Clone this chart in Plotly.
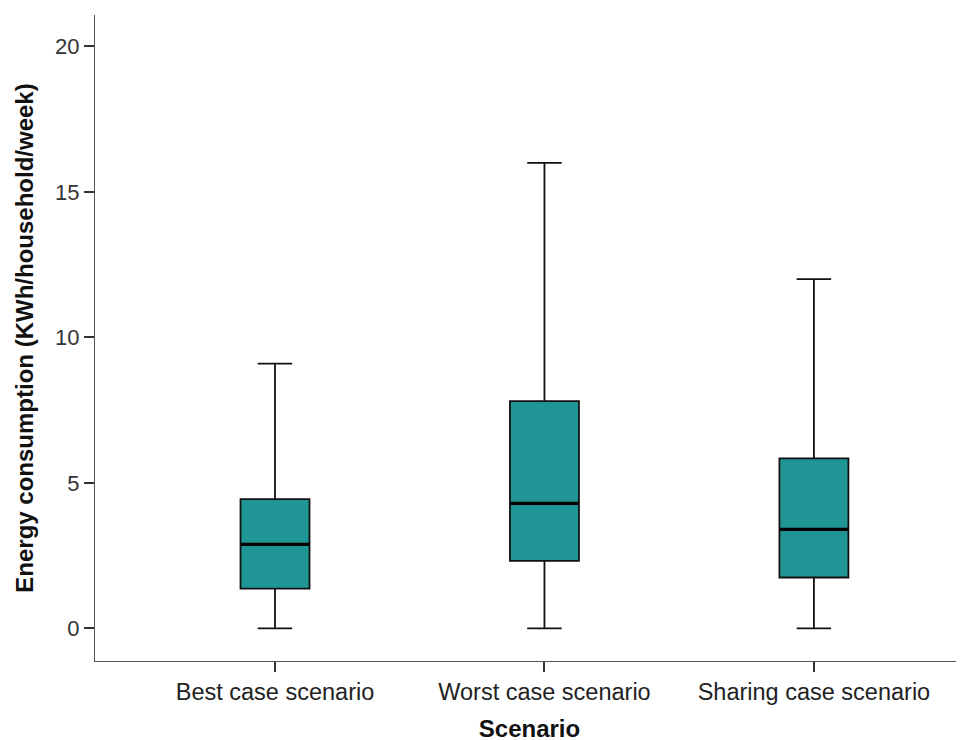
import plotly.graph_objects as go

categories = ["Best case scenario", "Worst case scenario", "Sharing case scenario"]
lower_fence = [0.0, 0.0, 0.0]
q1 = [1.37, 2.32, 1.75]
median = [2.89, 4.30, 3.40]
q3 = [4.44, 7.81, 5.84]
upper_fence = [9.1, 16.0, 12.0]
y_ticks = [0, 5, 10, 15, 20]

BOX_W = 0.256
FILL = "#1F9695"
FONT = "Liberation Sans, Arial, sans-serif"

fig = go.Figure()
fig.add_trace(go.Box(
    x=categories,
    q1=q1, median=median, q3=q3,
    lowerfence=lower_fence, upperfence=upper_fence,
    width=BOX_W,
    whiskerwidth=0.5,
    fillcolor=FILL,
    line=dict(color="#111111", width=1.8),
    boxpoints=False,
    hoverinfo="skip",
    showlegend=False,
))

# thicker median lines, drawn from the data
for i, m in enumerate(median):
    fig.add_shape(type="line", xref="x", yref="y",
                  x0=i - BOX_W / 2, x1=i + BOX_W / 2, y0=m, y1=m,
                  line=dict(color="#000000", width=3.2))

fig.update_layout(
    width=964, height=740,
    margin=dict(l=87, r=8, t=7, b=87),
    paper_bgcolor="white", plot_bgcolor="white",
    font=dict(family=FONT, color="#333333"),
)
fig.update_xaxes(
    type="category",
    range=[-0.668, 2.557],
    showline=True, linecolor="#555555", linewidth=1.2,
    ticks="outside", ticklen=10, tickcolor="#333333", tickwidth=1.5,
    showgrid=False, zeroline=False,
    tickfont=dict(size=23.5, color="#222222", family=FONT),
    title=dict(text="<b>Scenario</b>", font=dict(size=24, color="#111111", family=FONT), standoff=15),
)
fig.update_yaxes(
    range=[-1.12, 21.08],
    tickvals=y_ticks,
    showline=True, linecolor="#555555", linewidth=1.2,
    ticks="outside", ticklen=10, tickcolor="#333333", tickwidth=1.5,
    showgrid=False, zeroline=False,
    tickfont=dict(size=22, color="#333333", family=FONT),
    title=dict(text="<b>Energy consumption (KWh/household/week)</b>",
               font=dict(size=24, color="#111111", family=FONT), standoff=14),
)

fig.write_html("out.html")
